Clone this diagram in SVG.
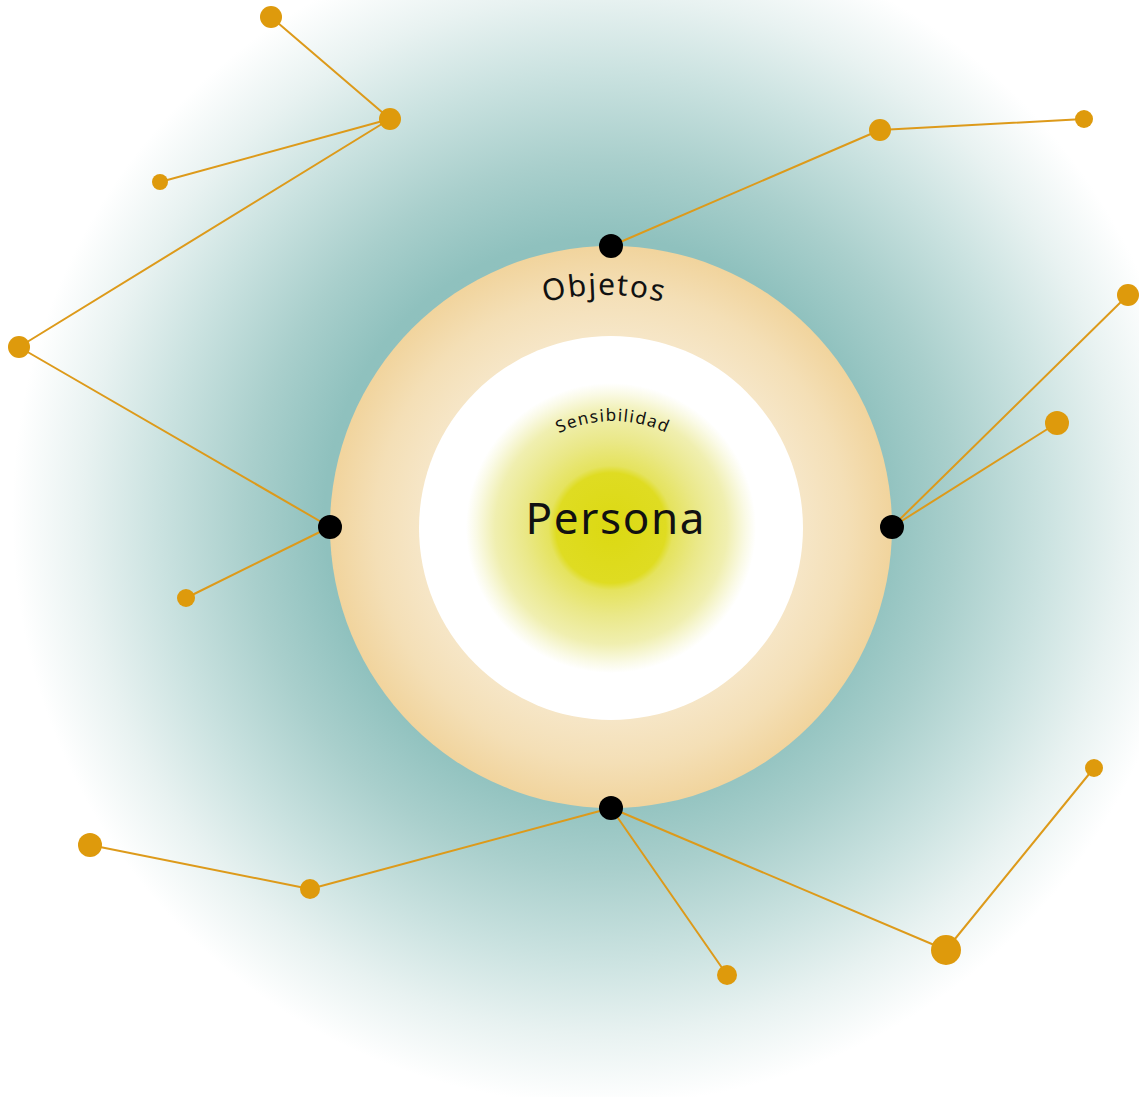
<svg xmlns="http://www.w3.org/2000/svg" width="1139" height="1097" viewBox="0 0 1139 1097">
  <defs>
    <radialGradient id="haze" gradientUnits="userSpaceOnUse" cx="602" cy="515" r="590">
      <stop offset="0" stop-color="#8cbfbc"/>
      <stop offset="0.47" stop-color="#8fc1be"/>
      <stop offset="0.6" stop-color="#a9cfcc"/>
      <stop offset="0.75" stop-color="#cae2e0"/>
      <stop offset="0.88" stop-color="#e8f2f1"/>
      <stop offset="1" stop-color="#ffffff"/>
    </radialGradient>
    <radialGradient id="ring" gradientUnits="userSpaceOnUse" cx="611" cy="527" r="281">
      <stop offset="0.68" stop-color="#f6e6c7"/>
      <stop offset="0.84" stop-color="#f4dfb6"/>
      <stop offset="1" stop-color="#f1d49d"/>
    </radialGradient>
    <radialGradient id="glow" gradientUnits="userSpaceOnUse" cx="611" cy="528" r="145">
      <stop offset="0" stop-color="#dcd912"/>
      <stop offset="0.38" stop-color="#dfdc22"/>
      <stop offset="0.43" stop-color="#e5e35e"/>
      <stop offset="0.6" stop-color="#eae888"/>
      <stop offset="0.8" stop-color="#f0efb0"/>
      <stop offset="0.93" stop-color="#fafae6"/>
      <stop offset="1" stop-color="#ffffff"/>
    </radialGradient>
    <path id="arcObjetos" d="M 520 310 A 240 240 0 0 1 688 310"/>
    <path id="arcSens" d="M 538 446 A 125 125 0 0 1 688 446"/>
    <style>
      .link { stroke: #dd9a1a; stroke-width: 2; fill: none; stroke-linecap: round; }
      .leaf { fill: #de9a0c; }
      .hub { fill: #000000; }
      .label { font-family: "Noto Sans", "Open Sans", sans-serif; fill: #111111; }
    </style>
  </defs>

  <!-- background haze -->
  <rect x="0" y="0" width="1139" height="1097" fill="#ffffff"/>
  <circle cx="602" cy="515" r="590" fill="url(#haze)"/>

  <!-- concentric layers -->
  <g id="objetos">
    <circle cx="611" cy="527" r="281" fill="url(#ring)"/>
    <text class="label" font-size="30" letter-spacing="1.5"><textPath href="#arcObjetos" startOffset="50%" text-anchor="middle">Objetos</textPath></text>
  </g>
  <g id="sensibilidad">
    <circle cx="611" cy="528" r="192" fill="#ffffff"/>
    <circle cx="611" cy="528" r="145" fill="url(#glow)"/>
    <text class="label" font-size="17" letter-spacing="1.3"><textPath href="#arcSens" startOffset="50%" text-anchor="middle">Sensibilidad</textPath></text>
  </g>
  <g id="persona">
    <text class="label" x="615" y="534" font-size="44" text-anchor="middle" textLength="179" lengthAdjust="spacing">Persona</text>
  </g>

  <!-- connectors -->
  <g id="connectors">
    <line class="link" x1="271" y1="17" x2="390" y2="119"/>
    <line class="link" x1="390" y1="119" x2="160" y2="182"/>
    <line class="link" x1="390" y1="119" x2="19" y2="347"/>
    <line class="link" x1="19" y1="347" x2="330" y2="527"/>
    <line class="link" x1="330" y1="527" x2="186" y2="598"/>
    <line class="link" x1="611" y1="246" x2="880" y2="130"/>
    <line class="link" x1="880" y1="130" x2="1084" y2="119"/>
    <line class="link" x1="892" y1="527" x2="1128" y2="295"/>
    <line class="link" x1="892" y1="527" x2="1057" y2="423"/>
    <line class="link" x1="611" y1="808" x2="310" y2="889"/>
    <line class="link" x1="310" y1="889" x2="90" y2="845"/>
    <line class="link" x1="611" y1="808" x2="727" y2="975"/>
    <line class="link" x1="611" y1="808" x2="946" y2="950"/>
    <line class="link" x1="946" y1="950" x2="1094" y2="768"/>
  </g>

  <!-- anchor points on the ring -->
  <g id="hub-top"><circle class="hub" cx="611" cy="246" r="12"/></g>
  <g id="hub-left"><circle class="hub" cx="330" cy="527" r="12"/></g>
  <g id="hub-right"><circle class="hub" cx="892" cy="527" r="12"/></g>
  <g id="hub-bottom"><circle class="hub" cx="611" cy="808" r="12"/></g>

  <!-- outer nodes -->
  <g id="n1"><circle class="leaf" cx="271" cy="17" r="11"/></g>
  <g id="n2"><circle class="leaf" cx="390" cy="119" r="11"/></g>
  <g id="n3"><circle class="leaf" cx="160" cy="182" r="8"/></g>
  <g id="n4"><circle class="leaf" cx="19" cy="347" r="11"/></g>
  <g id="n5"><circle class="leaf" cx="186" cy="598" r="9"/></g>
  <g id="n6"><circle class="leaf" cx="880" cy="130" r="11"/></g>
  <g id="n7"><circle class="leaf" cx="1084" cy="119" r="9"/></g>
  <g id="n8"><circle class="leaf" cx="1128" cy="295" r="11"/></g>
  <g id="n9"><circle class="leaf" cx="1057" cy="423" r="12"/></g>
  <g id="n10"><circle class="leaf" cx="90" cy="845" r="12"/></g>
  <g id="n11"><circle class="leaf" cx="310" cy="889" r="10"/></g>
  <g id="n12"><circle class="leaf" cx="727" cy="975" r="10"/></g>
  <g id="n13"><circle class="leaf" cx="946" cy="950" r="15"/></g>
  <g id="n14"><circle class="leaf" cx="1094" cy="768" r="9"/></g>
</svg>
